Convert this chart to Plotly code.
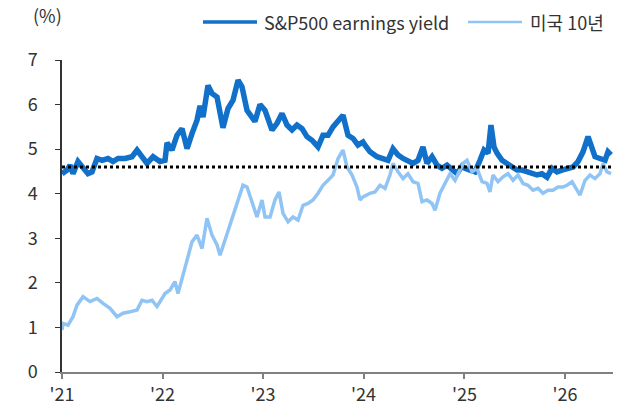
import pandas as pd
import plotly.graph_objects as go

# decimal-year offsets from 2021-01-01 and values (%)
ey_t = [0, .050, .080, .109, .159, .209, .258, .298, .348, .398, .457, .507, .557, .626, .696, .746,
        .795, .845, .905, .974, 1.024, 1.044, 1.093, 1.143, 1.193, 1.243, 1.292, 1.342, 1.372, 1.402,
        1.451, 1.491, 1.541, 1.600, 1.650, 1.700, 1.750, 1.789, 1.839, 1.869, 1.918, 1.968, 2.018,
        2.087, 2.137, 2.187, 2.237, 2.286, 2.336, 2.386, 2.435, 2.485, 2.545, 2.594, 2.644, 2.694,
        2.744, 2.793, 2.843, 2.893, 2.942, 2.992, 3.012, 3.062, 3.131, 3.191, 3.241, 3.290, 3.340,
        3.390, 3.439, 3.489, 3.539, 3.588, 3.628, 3.678, 3.728, 3.777, 3.827, 3.877, 3.926, 3.976,
        4.006, 4.056, 4.105, 4.155, 4.195, 4.235, 4.264, 4.294, 4.324, 4.374, 4.423, 4.473, 4.523,
        4.573, 4.622, 4.672, 4.722, 4.771, 4.821, 4.871, 4.920, 4.970, 5.020, 5.080, 5.129, 5.179,
        5.229, 5.268, 5.298, 5.348, 5.398, 5.427, 5.457]
ey_v = [4.45, 4.53, 4.64, 4.45, 4.72, 4.57, 4.45, 4.49, 4.79, 4.75, 4.79, 4.72, 4.79, 4.79, 4.83, 4.98,
        4.83, 4.68, 4.83, 4.72, 4.75, 5.14, 4.98, 5.31, 5.46, 5.01, 5.35, 5.65, 5.97, 5.72,
        6.43, 6.25, 6.17, 5.48, 5.91, 6.10, 6.55, 6.40, 5.87, 5.76, 5.62, 6.00, 5.87,
        5.43, 5.58, 5.80, 5.54, 5.43, 5.54, 5.46, 5.28, 5.20, 5.05, 5.31, 5.31, 5.50,
        5.61, 5.76, 5.31, 5.24, 5.09, 5.16, 5.09, 4.94, 4.83, 4.79, 4.75, 5.01, 4.87,
        4.79, 4.75, 4.68, 4.75, 5.05, 4.68, 4.83, 4.64, 4.57, 4.64, 4.53, 4.45, 4.62,
        4.57, 4.53, 4.49, 4.75, 4.98, 4.91, 5.54, 5.05, 4.91, 4.75, 4.68, 4.60, 4.53,
        4.53, 4.49, 4.45, 4.42, 4.45, 4.37, 4.57, 4.49, 4.53, 4.57, 4.60, 4.72, 4.94,
        5.28, 4.98, 4.83, 4.79, 4.75, 4.94, 4.87]

ust_t = [0, .010, .060, .109, .149, .209, .278, .348, .408, .477, .547, .606, .676, .746, .795, .845,
         .895, .944, .994, 1.024, 1.074, 1.123, 1.153, 1.203, 1.243, 1.292, 1.342, 1.392, 1.441,
         1.491, 1.541, 1.571, 1.620, 1.670, 1.720, 1.769, 1.799, 1.839, 1.889, 1.938, 1.988, 2.018,
         2.068, 2.117, 2.157, 2.197, 2.247, 2.296, 2.346, 2.396, 2.445, 2.495, 2.545, 2.594, 2.644,
         2.694, 2.744, 2.793, 2.833, 2.883, 2.932, 2.962, 2.992, 3.062, 3.111, 3.161, 3.211, 3.260,
         3.290, 3.340, 3.390, 3.439, 3.489, 3.539, 3.579, 3.628, 3.678, 3.708, 3.757, 3.807, 3.857,
         3.907, 3.956, 3.986, 4.026, 4.076, 4.125, 4.175, 4.225, 4.254, 4.284, 4.334, 4.384, 4.433,
         4.483, 4.533, 4.583, 4.632, 4.682, 4.732, 4.781, 4.831, 4.881, 4.930, 4.980, 5.020, 5.070,
         5.099, 5.149, 5.199, 5.249, 5.298, 5.348, 5.378, 5.417, 5.457]
ust_v = [0.94, 1.09, 1.05, 1.24, 1.50, 1.69, 1.58, 1.65, 1.54, 1.43, 1.24, 1.32, 1.35, 1.39, 1.61, 1.58,
         1.61, 1.47, 1.65, 1.76, 1.84, 2.03, 1.76, 2.21, 2.51, 2.92, 3.07, 2.77, 3.45,
         3.07, 2.85, 2.62, 2.96, 3.26, 3.67, 4.01, 4.19, 4.15, 3.78, 3.48, 3.86, 3.48,
         3.48, 3.86, 4.04, 3.56, 3.37, 3.48, 3.41, 3.74, 3.78, 3.86, 4.01, 4.19, 4.30,
         4.42, 4.79, 4.98, 4.60, 4.42, 4.15, 3.86, 3.93, 4.01, 4.04, 4.19, 4.12, 4.42,
         4.68, 4.49, 4.34, 4.45, 4.27, 4.23, 3.82, 3.86, 3.78, 3.63, 4.01, 4.23, 4.45,
         4.30, 4.53, 4.68, 4.75, 4.49, 4.57, 4.27, 4.23, 4.04, 4.42, 4.27, 4.38, 4.45,
         4.30, 4.42, 4.23, 4.19, 4.08, 4.12, 4.01, 4.08, 4.08, 4.15, 4.15, 4.19, 4.27,
         4.15, 3.97, 4.30, 4.42, 4.34, 4.45, 4.68, 4.49, 4.45]

series_names = ["S&P500 earnings yield", "미국 10년"]
series_colors = ["#1170C9", "#90C4F5"]
avg_level = 4.6
y_ticks = [0, 1, 2, 3, 4, 5, 6, 7]
x_ticks = ["2021-01-01", "2022-01-01", "2023-01-01", "2024-01-01", "2025-01-01", "2026-01-01"]
x_ticktext = ["'21", "'22", "'23", "'24", "'25", "'26"]

base = pd.Timestamp("2021-01-01")
to_dates = lambda ts: [base + pd.Timedelta(days=t * 365.25) for t in ts]

FONT = "Noto Sans CJK KR"
TXT = "#333333"
FS = 18

fig = go.Figure()
fig.add_trace(go.Scatter(x=to_dates(ey_t), y=ey_v, mode="lines", name=series_names[0],
                         line=dict(color=series_colors[0], width=5.5)))
fig.add_trace(go.Scatter(x=to_dates(ust_t), y=ust_v, mode="lines", name=series_names[1],
                         line=dict(color=series_colors[1], width=3.5)))
fig.add_hline(y=avg_level, line=dict(color="black", width=3, dash="dot"))

# custom legend (long line samples as in the original)
leg_y = 1.1218
for (x0, x1, xt, lw), name, col in zip([(0.2559, 0.3539, 0.3630, 3.5), (0.7368, 0.8348, 0.8457, 2.5)],
                                       series_names, series_colors):
    fig.add_shape(type="line", xref="paper", yref="paper", x0=x0, x1=x1, y0=leg_y, y1=leg_y,
                  line=dict(color=col, width=lw))
    fig.add_annotation(text=name, xref="paper", yref="paper", x=xt, y=leg_y, xanchor="left",
                       yanchor="middle", showarrow=False, font=dict(size=FS, color=TXT))

fig.update_layout(
    width=627, height=407,
    margin=dict(l=62, r=14, t=60, b=35, autoexpand=False),
    paper_bgcolor="white", plot_bgcolor="white",
    font=dict(family=FONT, size=FS, color=TXT),
    showlegend=False,
    xaxis=dict(range=[base, base + pd.Timedelta(days=5.477 * 365.25)],
               tickvals=x_ticks, ticktext=x_ticktext, ticks="outside", ticklen=5,
               tickcolor="#808080", tickwidth=1.5,
               showline=True, linecolor="#808080", linewidth=2, showgrid=False, zeroline=False),
    yaxis=dict(range=[0, 7], tickvals=y_ticks, ticks="outside", ticklen=5, tickcolor=TXT,
               showline=True, linecolor=TXT, linewidth=1.5, showgrid=False, zeroline=False,
               ticklabelstandoff=14),
)
fig.add_annotation(text="(%)", xref="paper", yref="paper", x=-0.027, y=1.144,
                   xanchor="center", yanchor="middle",
                   showarrow=False, font=dict(size=FS, color=TXT))
fig.write_html("out.html", config={"displayModeBar": False},
               post_script="document.body.style.margin='0';document.body.style.overflow='hidden';")
